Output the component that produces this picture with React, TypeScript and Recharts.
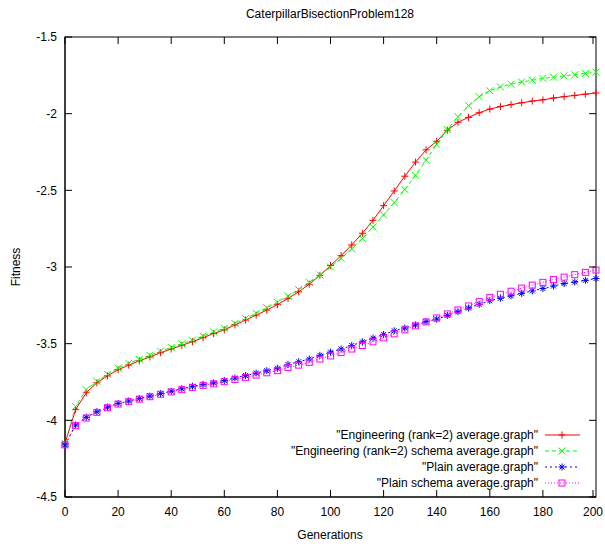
import React from 'react';
import { LineChart, Line, XAxis, YAxis } from 'recharts';

// generation index (every 4th generation)
const generations = [
  0, 4, 8, 12, 16, 20, 24, 28, 32, 36, 40, 44, 48, 52, 56, 60, 64, 68, 72, 76,
  80, 84, 88, 92, 96, 100, 104, 108, 112, 116, 120, 124, 128, 132, 136, 140,
  144, 148, 152, 156, 160, 164, 168, 172, 176, 180, 184, 188, 192, 196, 200
];

const engineering = [
  -4.15, -3.93, -3.82, -3.755, -3.71, -3.67, -3.64, -3.612, -3.586, -3.559, -3.535,
  -3.511, -3.487, -3.461, -3.434, -3.41, -3.378, -3.346, -3.314, -3.281, -3.245,
  -3.205, -3.162, -3.112, -3.054, -2.99, -2.926, -2.856, -2.78, -2.696, -2.6,
  -2.504, -2.408, -2.316, -2.236, -2.18, -2.108, -2.056, -2.024, -1.994, -1.97,
  -1.954, -1.941, -1.929, -1.918, -1.91, -1.898, -1.889, -1.881, -1.873, -1.865
];

const engineeringSchema = [
  -4.15, -3.91, -3.8, -3.746, -3.7, -3.66, -3.628, -3.602, -3.576, -3.549, -3.525,
  -3.501, -3.477, -3.451, -3.424, -3.4, -3.368, -3.336, -3.302, -3.266, -3.23,
  -3.19, -3.147, -3.101, -3.052, -3.0, -2.944, -2.882, -2.814, -2.74, -2.66,
  -2.58, -2.494, -2.402, -2.304, -2.2, -2.104, -2.02, -1.948, -1.89, -1.85,
  -1.826, -1.808, -1.794, -1.782, -1.77, -1.762, -1.754, -1.746, -1.738, -1.73
];

const plain = [
  -4.16, -4.03, -3.98, -3.944, -3.914, -3.89, -3.874, -3.858, -3.842, -3.826, -3.81,
  -3.794, -3.778, -3.766, -3.756, -3.74, -3.724, -3.708, -3.692, -3.676, -3.66,
  -3.636, -3.618, -3.6, -3.576, -3.555, -3.535, -3.512, -3.488, -3.464, -3.44,
  -3.416, -3.398, -3.378, -3.356, -3.34, -3.316, -3.292, -3.268, -3.244, -3.22,
  -3.204, -3.188, -3.172, -3.156, -3.14, -3.124, -3.108, -3.098, -3.087, -3.075
];

const plainSchema = [
  -4.16, -4.035, -3.985, -3.948, -3.918, -3.894, -3.878, -3.862, -3.846, -3.83, -3.815,
  -3.8, -3.785, -3.772, -3.762, -3.748, -3.734, -3.72, -3.705, -3.69, -3.676,
  -3.656, -3.64, -3.622, -3.6, -3.58, -3.558, -3.535, -3.512, -3.488, -3.462,
  -3.436, -3.41, -3.384, -3.358, -3.332, -3.306, -3.28, -3.254, -3.226, -3.198,
  -3.178, -3.158, -3.138, -3.118, -3.1, -3.082, -3.066, -3.05, -3.035, -3.02
];

const xTicks = [0, 20, 40, 60, 80, 100, 120, 140, 160, 180, 200];
const yTicks = [-4.5, -4, -3.5, -3, -2.5, -2, -1.5];

const data = generations.map((g, i) => ({
  gen: g,
  e: engineering[i],
  es: engineeringSchema[i],
  p: plain[i],
  ps: plainSchema[i]
}));

type MarkerKind = 'plus' | 'cross' | 'star' | 'square';

const series: Array<{ key: string; name: string; color: string; dash?: string; marker: MarkerKind }> = [
  { key: 'e', name: '"Engineering (rank=2) average.graph"', color: '#ff0000', marker: 'plus' },
  { key: 'es', name: '"Engineering (rank=2) schema average.graph"', color: '#00ff00', dash: '4 3', marker: 'cross' },
  { key: 'p', name: '"Plain average.graph"', color: '#0000ff', dash: '2 3', marker: 'star' },
  { key: 'ps', name: '"Plain schema average.graph"', color: '#ff00ff', dash: '1 2', marker: 'square' }
];

const FONT = '"Liberation Sans", Arial, sans-serif';

// plot frame (gnuplot style box with inward ticks)
const PLOT_LEFT = 65;
const PLOT_RIGHT = 596;
const PLOT_TOP = 37;
const PLOT_BOTTOM = 497;
const TICK = 7;

const Marker = ({ kind, cx, cy, color }: { kind: MarkerKind; cx: number; cy: number; color: string }) => {
  const s = 3.5;
  if (cx == null || cy == null) return null;
  if (kind === 'plus') {
    return (
      <g stroke={color} strokeWidth={1}>
        <line x1={cx - s} y1={cy} x2={cx + s} y2={cy} />
        <line x1={cx} y1={cy - s} x2={cx} y2={cy + s} />
      </g>
    );
  }
  if (kind === 'cross') {
    return (
      <g stroke={color} strokeWidth={1}>
        <line x1={cx - s} y1={cy - s} x2={cx + s} y2={cy + s} />
        <line x1={cx - s} y1={cy + s} x2={cx + s} y2={cy - s} />
      </g>
    );
  }
  if (kind === 'star') {
    return (
      <g stroke={color} strokeWidth={1}>
        <line x1={cx - s} y1={cy} x2={cx + s} y2={cy} />
        <line x1={cx} y1={cy - s} x2={cx} y2={cy + s} />
        <line x1={cx - 2.5} y1={cy - 2.5} x2={cx + 2.5} y2={cy + 2.5} />
        <line x1={cx - 2.5} y1={cy + 2.5} x2={cx + 2.5} y2={cy - 2.5} />
      </g>
    );
  }
  return <rect x={cx - 3} y={cy - 3} width={6} height={6} fill="none" stroke={color} strokeWidth={1} />;
};

const XTick = (props: any) => {
  const { x, y, payload } = props;
  return (
    <g>
      <line x1={x} x2={x} y1={PLOT_BOTTOM} y2={PLOT_BOTTOM - TICK} stroke="#000" />
      <line x1={x} x2={x} y1={PLOT_TOP} y2={PLOT_TOP + TICK} stroke="#000" />
      <text x={x} y={y} dy="0.71em" textAnchor="middle" fontSize={12} fontFamily={FONT} fill="#000">
        {payload.value}
      </text>
    </g>
  );
};

const YTick = (props: any) => {
  const { x, y, payload } = props;
  return (
    <g>
      <line x1={PLOT_LEFT} x2={PLOT_LEFT + TICK} y1={y} y2={y} stroke="#000" />
      <line x1={PLOT_RIGHT - TICK} x2={PLOT_RIGHT} y1={y} y2={y} stroke="#000" />
      <text x={x} y={y} dy="0.355em" textAnchor="end" fontSize={12} fontFamily={FONT} fill="#000">
        {payload.value}
      </text>
    </g>
  );
};

const legendRows = [435, 451, 467, 483];

export default function App() {
  return (
    <div style={{ position: 'absolute', left: 0, top: 0, width: 605, height: 544, background: '#fff', fontFamily: FONT }}>
      <LineChart width={605} height={544} data={data} margin={{ top: 37, right: 9, bottom: 0, left: 0 }}>
        <rect
          x={PLOT_LEFT}
          y={PLOT_TOP}
          width={PLOT_RIGHT - PLOT_LEFT}
          height={PLOT_BOTTOM - PLOT_TOP}
          fill="none"
          stroke="#000"
          strokeWidth={1}
        />
        <XAxis
          dataKey="gen"
          type="number"
          domain={[0, 200]}
          ticks={xTicks}
          height={47}
          stroke="#000"
          tickLine={false}
          tickSize={0}
          tickMargin={10}
          tick={XTick}
        />
        <YAxis
          type="number"
          domain={[-4.5, -1.5]}
          ticks={yTicks}
          width={65}
          stroke="#000"
          tickLine={false}
          tickSize={0}
          tickMargin={8}
          tick={YTick}
        />
        {series.map((s) => (
          <Line
            key={s.key}
            dataKey={s.key}
            name={s.name}
            stroke={s.color}
            strokeWidth={1}
            strokeDasharray={s.dash}
            isAnimationActive={false}
            dot={(props: any) => (
              <Marker key={`${s.key}-${props.index}`} kind={s.marker} cx={props.cx} cy={props.cy} color={s.color} />
            )}
            activeDot={false}
          />
        ))}
        <text x={330} y={18} textAnchor="middle" fontSize={12} fontFamily={FONT} fill="#000">
          CaterpillarBisectionProblem128
        </text>
        <text x={330} y={539} textAnchor="middle" fontSize={12} fontFamily={FONT} fill="#000">
          Generations
        </text>
        <text x={20} y={267} textAnchor="middle" fontSize={12} fontFamily={FONT} fill="#000" transform="rotate(-90 20 267)">
          Fitness
        </text>
        {series.map((s, i) => (
          <g key={`legend-${s.key}`}>
            <text x={538} y={legendRows[i] + 4} textAnchor="end" fontSize={12} fontFamily={FONT} fill="#000">
              {s.name}
            </text>
            <line x1={545} y1={legendRows[i]} x2={580} y2={legendRows[i]} stroke={s.color} strokeDasharray={s.dash} />
            <Marker kind={s.marker} cx={562} cy={legendRows[i]} color={s.color} />
          </g>
        ))}
      </LineChart>
    </div>
  );
}
